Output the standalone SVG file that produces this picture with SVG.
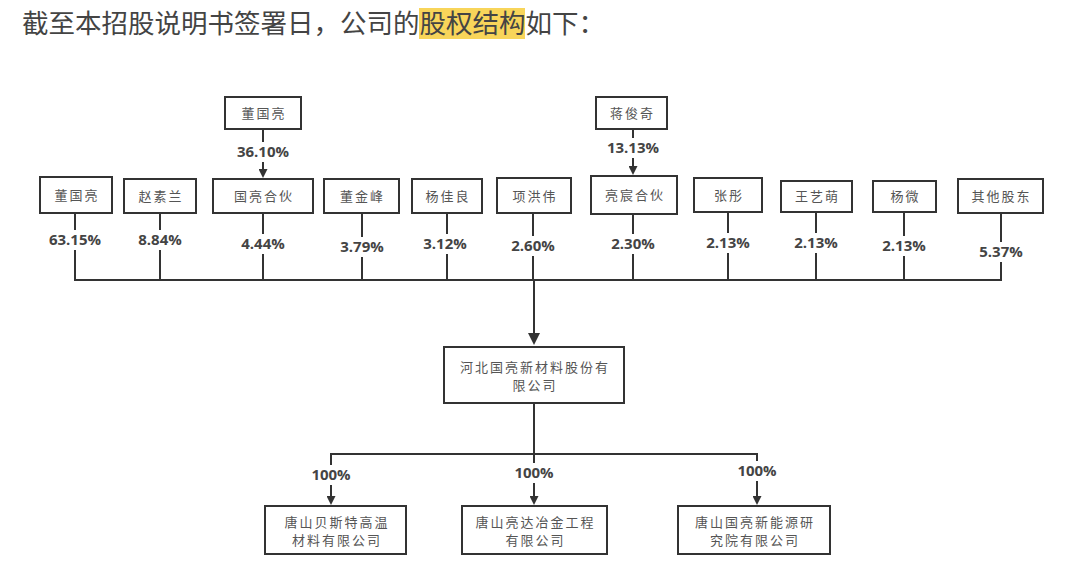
<svg xmlns="http://www.w3.org/2000/svg" width="1080" height="573" viewBox="0 0 1080 573">
<style>
.box{fill:#fff;stroke:#333;stroke-width:2}
.nt{font-family:"Noto Sans CJK SC","Noto Sans",sans-serif;font-size:13px;fill:#555;letter-spacing:2px;text-anchor:middle}
.pct{font-family:"Open Sans","DejaVu Sans",sans-serif;font-weight:bold;font-size:15px;fill:#444;text-anchor:middle}
.ln{stroke:#333;stroke-width:2;fill:none}
.title{font-family:"Noto Sans CJK SC",sans-serif;font-size:26.5px;fill:#444}
</style>
<defs>
<marker id="arr" viewBox="0 0 10 10" refX="0" refY="5" markerWidth="10" markerHeight="9" markerUnits="userSpaceOnUse" orient="auto"><path d="M0,0 L10,5 L0,10 z" fill="#333"/></marker>
<marker id="arrB" viewBox="0 0 10 10" refX="0" refY="5" markerWidth="14" markerHeight="12" markerUnits="userSpaceOnUse" orient="auto"><path d="M0,0 L10,5 L0,10 z" fill="#333"/></marker>
</defs>
<rect width="1080" height="573" fill="#fff"/>
<g id="title">
<rect x="419" y="8" width="106" height="31" fill="#f8d55a"/>
<text class="title" x="22" y="33">截至本招股说明书签署日，公司的股权结构如下：</text>
</g>
<g id="connectors">
<line class="ln" x1="263" y1="129" x2="263" y2="142"/>
<line class="ln" x1="263" y1="162" x2="263" y2="169" marker-end="url(#arr)"/>
<line class="ln" x1="633" y1="129" x2="633" y2="138"/>
<line class="ln" x1="633" y1="158" x2="633" y2="166" marker-end="url(#arr)"/>
<line class="ln" x1="75" y1="213" x2="75" y2="230"/><line class="ln" x1="75" y1="250" x2="75" y2="280"/>
<line class="ln" x1="160" y1="213" x2="160" y2="230"/><line class="ln" x1="160" y1="250" x2="160" y2="280"/>
<line class="ln" x1="263" y1="213" x2="263" y2="234"/><line class="ln" x1="263" y1="254" x2="263" y2="280"/>
<line class="ln" x1="362" y1="213" x2="362" y2="237"/><line class="ln" x1="362" y1="257" x2="362" y2="280"/>
<line class="ln" x1="447" y1="213" x2="447" y2="234"/><line class="ln" x1="447" y1="254" x2="447" y2="280"/>
<line class="ln" x1="533" y1="213" x2="533" y2="236"/><line class="ln" x1="533" y1="256" x2="533" y2="280"/>
<line class="ln" x1="633" y1="214" x2="633" y2="234"/><line class="ln" x1="633" y1="254" x2="633" y2="280"/>
<line class="ln" x1="728" y1="212" x2="728" y2="233"/><line class="ln" x1="728" y1="253" x2="728" y2="280"/>
<line class="ln" x1="816" y1="212" x2="816" y2="233"/><line class="ln" x1="816" y1="253" x2="816" y2="280"/>
<line class="ln" x1="904" y1="212" x2="904" y2="236"/><line class="ln" x1="904" y1="256" x2="904" y2="280"/>
<line class="ln" x1="1001" y1="213" x2="1001" y2="242"/><line class="ln" x1="1001" y1="262" x2="1001" y2="280"/>
<line class="ln" x1="74" y1="280" x2="1002" y2="280"/>
<line class="ln" x1="534" y1="280" x2="534" y2="333" stroke-width="3.5" marker-end="url(#arrB)"/>
<line class="ln" x1="534" y1="403" x2="534" y2="454"/>
<line class="ln" x1="330" y1="454" x2="758" y2="454"/>
<line class="ln" x1="331" y1="454" x2="331" y2="465"/><line class="ln" x1="331" y1="485" x2="331" y2="496" marker-end="url(#arr)"/>
<line class="ln" x1="534" y1="454" x2="534" y2="463"/><line class="ln" x1="534" y1="483" x2="534" y2="496" marker-end="url(#arr)"/>
<line class="ln" x1="757" y1="454" x2="757" y2="461"/><line class="ln" x1="757" y1="481" x2="757" y2="496" marker-end="url(#arr)"/>
</g>
<g id="labels">
<text class="pct" x="263" y="157">36.10%</text>
<text class="pct" x="633" y="153">13.13%</text>
<text class="pct" x="75" y="245">63.15%</text>
<text class="pct" x="160" y="245">8.84%</text>
<text class="pct" x="263" y="249">4.44%</text>
<text class="pct" x="362" y="252">3.79%</text>
<text class="pct" x="445" y="249">3.12%</text>
<text class="pct" x="533" y="251">2.60%</text>
<text class="pct" x="633" y="249">2.30%</text>
<text class="pct" x="728" y="248">2.13%</text>
<text class="pct" x="816" y="248">2.13%</text>
<text class="pct" x="904" y="251">2.13%</text>
<text class="pct" x="1001" y="257">5.37%</text>
<text class="pct" x="331" y="480">100%</text>
<text class="pct" x="534" y="478">100%</text>
<text class="pct" x="757" y="476">100%</text>
</g>
<g id="n-dongguoliang-top"><rect class="box" x="225" y="97" width="76" height="32"/><text class="nt" x="264" y="118">董国亮</text></g>
<g id="n-jiangjunqi"><rect class="box" x="596" y="97" width="71" height="32"/><text class="nt" x="632.5" y="118">蒋俊奇</text></g>
<g id="n-dongguoliang"><rect class="box" x="40" y="177" width="72" height="36"/><text class="nt" x="77" y="200">董国亮</text></g>
<g id="n-zhaosulan"><rect class="box" x="124" y="179" width="72" height="34"/><text class="nt" x="161" y="201">赵素兰</text></g>
<g id="n-guolianghehuo"><rect class="box" x="213" y="179" width="100" height="34"/><text class="nt" x="264" y="201">国亮合伙</text></g>
<g id="n-dongjinfeng"><rect class="box" x="324" y="179" width="75" height="34"/><text class="nt" x="362.5" y="201">董金峰</text></g>
<g id="n-yangjialiang"><rect class="box" x="412" y="179" width="70" height="34"/><text class="nt" x="448" y="201">杨佳良</text></g>
<g id="n-xianghongwei"><rect class="box" x="497" y="178" width="74" height="35"/><text class="nt" x="535" y="201">项洪伟</text></g>
<g id="n-liangchenhehuo"><rect class="box" x="591" y="176" width="86" height="38"/><text class="nt" x="635" y="200">亮宸合伙</text></g>
<g id="n-zhangtong"><rect class="box" x="694" y="178" width="68" height="34"/><text class="nt" x="729" y="200">张彤</text></g>
<g id="n-wangyimeng"><rect class="box" x="781" y="181" width="71" height="31"/><text class="nt" x="817.5" y="201">王艺萌</text></g>
<g id="n-yangwei"><rect class="box" x="873" y="181" width="63" height="31"/><text class="nt" x="905.5" y="201">杨微</text></g>
<g id="n-qitagudong"><rect class="box" x="958" y="179" width="85" height="34"/><text class="nt" x="1001.5" y="201">其他股东</text></g>
<g id="n-hebeiguoliang"><rect class="box" x="444" y="347" width="180" height="56"/><text class="nt" x="535" y="372" letter-spacing="2.5">河北国亮新材料股份有</text><text class="nt" x="535" y="390" letter-spacing="2.5">限公司</text></g>
<g id="n-beisite"><rect class="box" x="265" y="506" width="141" height="48"/><text class="nt" x="337" y="527" letter-spacing="2.5">唐山贝斯特高温</text><text class="nt" x="337" y="545" letter-spacing="2.5">材料有限公司</text></g>
<g id="n-liangda"><rect class="box" x="462" y="506" width="145" height="48"/><text class="nt" x="535.5" y="527" letter-spacing="2.5">唐山亮达冶金工程</text><text class="nt" x="535.5" y="545" letter-spacing="2.5">有限公司</text></g>
<g id="n-xinnengyuan"><rect class="box" x="678" y="506" width="152" height="48"/><text class="nt" x="755" y="527" letter-spacing="2.5">唐山国亮新能源研</text><text class="nt" x="755" y="545" letter-spacing="2.5">究院有限公司</text></g>
</svg>
